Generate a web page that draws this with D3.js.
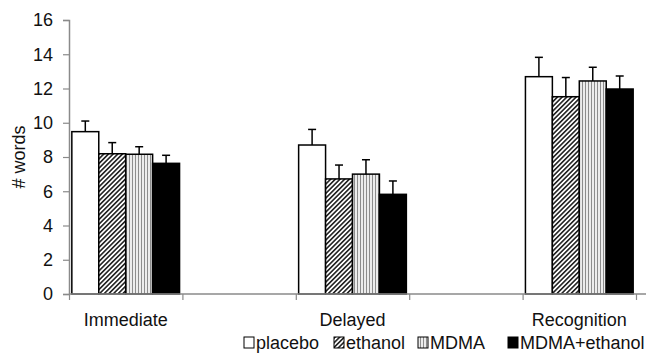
<!DOCTYPE html>
<html>
<head>
<meta charset="utf-8">
<script src="https://cdn.jsdelivr.net/npm/d3@7"></script>
<style>
  html, body { margin: 0; padding: 0; background: #fff; }
  svg { display: block; font-family: "Liberation Sans", Arial, Helvetica, sans-serif; }
</style>
</head>
<body>
<svg id="chart" width="646" height="356"></svg>
<script>
// ---- data ----
const slots = ["Immediate", "", "Delayed", "", "Recognition"];   // x-axis slots (blank gaps between groups)
const groupSlot = [0, 2, 4];                                      // slot index of each group
const seriesNames = ["placebo", "ethanol", "MDMA", "MDMA+ethanol"];
const placebo     = [9.48, 8.70, 12.69];
const ethanol     = [8.19, 6.72, 11.52];
const mdma        = [8.16, 7.00, 12.44];
const mdmaEthanol = [7.63, 5.82, 11.97];
const placeboErr     = [0.62, 0.91, 1.13];
const ethanolErr     = [0.65, 0.81, 1.12];
const mdmaErr        = [0.44, 0.84, 0.80];
const mdmaEthanolErr = [0.47, 0.78, 0.76];
const yTicks = [0, 2, 4, 6, 8, 10, 12, 14, 16];
const yLabel = "# words";

const seriesValues = [placebo, ethanol, mdma, mdmaEthanol];
const seriesErrors = [placeboErr, ethanolErr, mdmaErr, mdmaEthanolErr];

// ---- layout ----
const svg = d3.select("#chart");
const mLeft = 69, mRight = 636, mTop = 20, mBottom = 294;
const fontSize = 18;
const legendBoxX = [244, 334, 418, 508];

const defs = svg.append("defs");
const hatch = defs.append("pattern").attr("id", "hatch")
  .attr("patternUnits", "userSpaceOnUse").attr("width", 3.3).attr("height", 3.3)
  .attr("patternTransform", "rotate(45)");
hatch.append("rect").attr("width", 3.3).attr("height", 3.3).attr("fill", "#fff");
hatch.append("rect").attr("width", 1.6).attr("height", 3.3).attr("fill", "#222");

const vstripe = defs.append("pattern").attr("id", "vstripe")
  .attr("patternUnits", "userSpaceOnUse").attr("width", 3).attr("height", 3);
vstripe.append("rect").attr("width", 3).attr("height", 3).attr("fill", "#ececec");
vstripe.append("rect").attr("width", 1).attr("height", 3).attr("fill", "#8c8c8c");

const fills = ["#fff", "url(#hatch)", "url(#vstripe)", "#000"];

const x = d3.scaleBand().domain(d3.range(slots.length)).range([mLeft, mRight]).paddingInner(0).paddingOuter(0);
const xEdge = d3.scaleLinear().domain([0, slots.length]).range([mLeft, mRight]);
const y = d3.scaleLinear().domain([0, 16]).range([mBottom, mTop]);

const groupWidth = x.bandwidth() * 0.95;
const xs = d3.scaleBand().domain(d3.range(seriesNames.length)).range([0, groupWidth]).padding(0);

// y axis
const yAxis = svg.append("g").attr("transform", `translate(${mLeft},0)`)
  .call(d3.axisLeft(y).tickValues(yTicks).tickSize(6).tickPadding(10).tickFormat(d3.format("d")));
yAxis.select(".domain").attr("stroke", "#8a8a8a").attr("stroke-width", 1.5);
yAxis.selectAll(".tick line").attr("stroke", "#8a8a8a").attr("stroke-width", 1.2);
yAxis.selectAll(".tick text").attr("font-size", fontSize).attr("fill", "#111")
  .attr("font-family", "Liberation Sans, Arial, sans-serif");

// bars
seriesNames.forEach((s, si) => {
  const g = svg.append("g");
  groupSlot.forEach((slot, gi) => {
    const x0 = x(slot) + (x.bandwidth() - groupWidth) / 2 + xs(si);
    const v = seriesValues[si][gi];
    g.append("rect")
      .attr("x", x0).attr("y", y(v))
      .attr("width", xs.bandwidth()).attr("height", y(0) - y(v))
      .attr("fill", fills[si]).attr("stroke", "#000").attr("stroke-width", 1.5);
    const cx = x0 + xs.bandwidth() / 2;
    const e = v + seriesErrors[si][gi];
    g.append("line").attr("x1", cx).attr("x2", cx).attr("y1", y(v)).attr("y2", y(e))
      .attr("stroke", "#000").attr("stroke-width", 1.5);
    g.append("line").attr("x1", cx - 4).attr("x2", cx + 4).attr("y1", y(e)).attr("y2", y(e))
      .attr("stroke", "#000").attr("stroke-width", 1.5);
  });
});

// x axis: boundary ticks
const xAxisEdges = svg.append("g").attr("transform", `translate(0,${mBottom})`)
  .call(d3.axisBottom(xEdge).tickValues(d3.range(slots.length + 1)).tickSize(6).tickFormat(""));
xAxisEdges.select(".domain").remove();
xAxisEdges.selectAll(".tick line").attr("stroke", "#8a8a8a").attr("stroke-width", 1.2);
svg.append("line").attr("x1", mLeft).attr("x2", 646).attr("y1", mBottom).attr("y2", mBottom)
  .attr("stroke", "#8a8a8a").attr("stroke-width", 1.5);

// x axis: category labels
const xAxisLabels = svg.append("g").attr("transform", `translate(0,${mBottom})`)
  .call(d3.axisBottom(x).tickSize(0).tickPadding(19).tickFormat(i => slots[i]));
xAxisLabels.select(".domain").remove();
xAxisLabels.selectAll(".tick text").attr("font-size", fontSize).attr("fill", "#111")
  .attr("font-family", "Liberation Sans, Arial, sans-serif");

// y label
svg.append("text").attr("transform", `translate(25,${(mTop + mBottom) / 2}) rotate(-90)`)
  .attr("text-anchor", "middle").attr("font-size", fontSize).attr("fill", "#111")
  .text(yLabel);

// legend
const legend = svg.append("g").attr("transform", "translate(0,349)");
seriesNames.forEach((s, si) => {
  const lx = legendBoxX[si];
  legend.append("rect").attr("x", lx).attr("y", -12).attr("width", 10).attr("height", 11)
    .attr("fill", fills[si]).attr("stroke", "#000").attr("stroke-width", 1);
  legend.append("text").attr("x", lx + 12).attr("y", 0)
    .attr("font-size", fontSize).attr("fill", "#111").text(s);
});
</script>
</body>
</html>
